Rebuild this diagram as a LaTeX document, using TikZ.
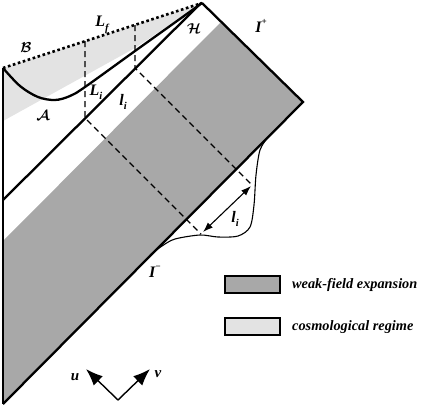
\documentclass[tikz,border=0pt]{standalone}
\usepackage{fontspec}
\setmainfont{Liberation Serif}
\usepackage{amsmath,bm}
\usetikzlibrary{arrows.meta}
\definecolor{darkg}{gray}{0.66}
\definecolor{lightg}{gray}{0.89}
\newcommand\lowsub[1]{\raisebox{-0.28em}{\fontsize{10.5}{10.5}\selectfont #1}}
\newcommand\highsup[1]{\raisebox{0.5em}{\fontsize{9}{9}\selectfont #1}}
\begin{document}
\begin{tikzpicture}[x=1pt,y=-1pt,
  lab/.style={font=\fontsize{16}{16}\selectfont\bfseries\itshape, inner sep=0pt},
  cal/.style={font=\fontsize{14}{14}\selectfont, inner sep=0pt},
  legtext/.style={font=\fontsize{14.3}{14.3}\selectfont\bfseries\itshape, inner sep=0pt, anchor=west},
  thickline/.style={line width=2.3pt, line join=miter},
  thinline/.style={line width=1.1pt},
  dashline/.style={line width=1.4pt, dash pattern=on 6pt off 4pt},
  dotline/.style={line width=2.6pt, dash pattern=on 2.6pt off 2.6pt},
  legbox/.style={draw=black, line width=1.3pt}]
\useasboundingbox (0,0) rectangle (436,405);

% key points
\coordinate (TL) at (3,68);
\coordinate (TV) at (202,3);
\coordinate (RC) at (303,102);
\coordinate (BL) at (3,404);
\coordinate (D1) at (3,200);
\coordinate (D2) at (201,3);
\coordinate (G1) at (3,241);
\coordinate (G2) at (221,22);
\coordinate (C1) at (3,121);
\coordinate (C2) at (135,48);

% fills
\fill[lightg] (TL) -- (TV) -- (C2) -- (C1) -- cycle;
\fill[darkg] (G1) -- (G2) -- (RC) -- (BL) -- cycle;

% dashed lines
\coordinate (P1) at (85,41);
\coordinate (Q1) at (85,118);
\coordinate (R1) at (201,234);
\coordinate (P2) at (135,25);
\coordinate (Q2) at (135,68);
\coordinate (R2) at (252,185);
\draw[dashline] (P1) -- (Q1) -- (R1);
\draw[dashline] (P2) -- (Q2) -- (R2);

% thick boundary lines
\draw[thickline] (TL) -- (BL);
\draw[thickline] (TV) -- (RC) -- (BL);
\draw[thickline] (D1) -- (D2);
\draw[dotline] (TL) -- (TV);

% apparent horizon curve
\draw[thickline, line join=round] plot[smooth, tension=0.55] coordinates
  {(3,68) (20,86) (38,97) (55,100) (70,96) (85,87) (135,51) (177,21) (202,3)};

% bump at past null infinity
\draw[thinline] plot[smooth, tension=0.5] coordinates
  {(150,255) (162,246) (175,239) (200,235) (218,237) (238,236) (250,227) (254,205) (256,175) (260,150) (268,137)};

% arrow l_i
\coordinate (A1) at (203,232);
\coordinate (A2) at (251,186);
\draw[thinline, {Latex[length=10pt,width=7pt]}-{Latex[length=10pt,width=7pt]}] (A1) -- (A2);

% labels
\node[lab] (lf) at (102,25) {L\lowsub{f}};
\node[cal] (lb) at (26,48) {$\bm{\mathcal{B}}$};
\node[cal] (lh) at (194,29) {$\bm{\mathcal{H}}$};
\node[lab] (ip) at (261,26) {I\highsup{+}};
\node[lab] (li) at (96,92) {L\lowsub{i}};
\node[lab] (sli) at (123,102) {l\lowsub{i}};
\node[cal] (la) at (43,116) {$\bm{\mathcal{A}}$};
\node[lab] (im) at (155,272) {I\highsup{−}};
\node[lab] (sli2) at (235,219) {l\lowsub{i}};

% u v axes
\coordinate (O) at (118,400);
\coordinate (U) at (86,369);
\coordinate (V) at (150,369);
\draw[line width=1.4pt, -{Latex[length=17pt,width=13pt]}] (O) -- (U);
\draw[line width=1.4pt, -{Latex[length=17pt,width=13pt]}] (O) -- (V);
\node[lab, font=\fontsize{15}{15}\selectfont\bfseries\itshape] (lu) at (75,377) {u};
\node[lab, font=\fontsize{15}{15}\selectfont\bfseries\itshape] (lv) at (158,374) {v};

% legend
\node[legbox, fill=darkg, minimum width=55pt, minimum height=17pt, inner sep=0pt] (k1) at (252.5,284.5) {};
\node[legtext] (t1) at (292,285) {weak-field expansion};
\node[legbox, fill=lightg, minimum width=55pt, minimum height=17pt, inner sep=0pt] (k2) at (252.5,326.5) {};
\node[legtext] (t2) at (292,327) {cosmological regime};
\end{tikzpicture}
\end{document}
